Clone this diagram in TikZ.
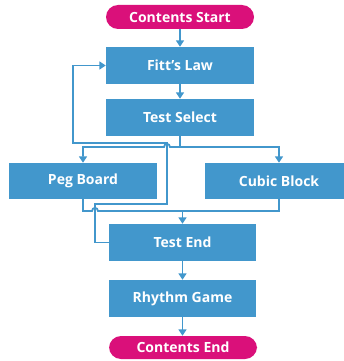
\documentclass[tikz,border=0pt]{standalone}
\usepackage{fontspec}
\setmainfont{Open Sans}
\usetikzlibrary{arrows.meta,calc}
\definecolor{boxblue}{RGB}{66,151,204}
\definecolor{termmag}{RGB}{218,16,122}
\begin{document}
\begin{tikzpicture}[x=1pt,y=-1pt,
  box/.style={fill=boxblue, text=white, minimum width=148pt, minimum height=37pt, inner sep=0pt, font=\fontsize{14}{16}\selectfont\bfseries},
  term/.style={box, fill=termmag, minimum height=24pt, rounded corners=12pt},
  conn/.style={draw=boxblue, line width=1.8pt},
  arr/.style={conn, -{Triangle[width=8pt,length=6.5pt]}}]
\useasboundingbox (0,0) rectangle (344,361);
\clip (0,0) rectangle (344,361);
\node[term] (cs) at (180,17) {Contents Start};
\node[box] (fitt) at (180,65.5) {Fitt's Law};
\node[box] (sel) at (180,117.5) {Test Select};
\node[box, minimum height=36pt] (peg) at (83,181) {Peg Board};
\node[box, minimum height=36pt] (cubic) at (279,181) {Cubic Block};
\node[box, minimum width=147pt] (tend) at (182.5,242.5) {Test End};
\node[box, minimum width=147pt] (rhythm) at (182.5,298.5) {Rhythm Game};
\node[term, minimum width=148pt, minimum height=23pt] (ce) at (183,347.5) {Contents End};
% helper points
\coordinate (split) at (180,147);
\coordinate (merge) at (182.5,211);
\coordinate (l1) at (95,204);
\coordinate (l2) at (167,143);
\coordinate (l3) at (73,143);
\coordinate (hop1) at (l2 |- split);
\coordinate (hop2) at (l1 |- merge);
% main flow
\draw[arr] (cs) -- (fitt);
\draw[arr] (fitt) -- (sel);
\draw[conn] (sel.south) -- (split);
\draw[arr] (split) -- ($(hop1)+(3,0)$) .. controls ($(hop1)+(3,-4)$) and ($(hop1)+(-3,-4)$) .. ($(hop1)+(-3,0)$) -- (peg.north |- split) -- (peg.north);
\draw[arr] (split) -| (cubic.north);
\draw[conn] (peg.south) -- (peg.south |- merge) -- ($(hop2)+(-3,0)$) .. controls ($(hop2)+(-3,-4)$) and ($(hop2)+(3,-4)$) .. ($(hop2)+(3,0)$) -- (merge) -| (cubic.south);
\draw[arr] (merge) -- (tend.north);
\draw[arr] (tend) -- (rhythm);
\draw[arr] (rhythm.south) -- (rhythm.south |- ce.north);
% loop back
\draw[arr] (tend.west) -| (l1) -| (l2) -- (l3) |- (fitt.west);
\end{tikzpicture}
\end{document}
